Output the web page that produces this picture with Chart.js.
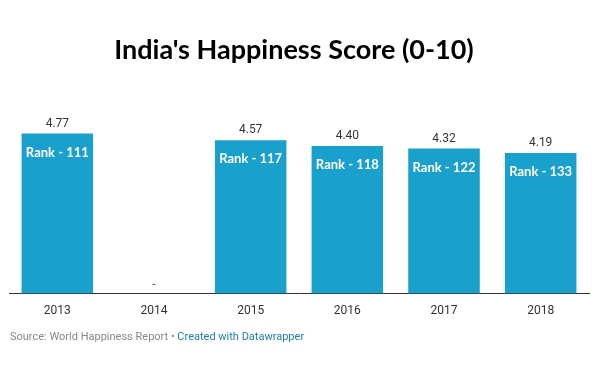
<!DOCTYPE html>
<html>
<head>
<meta charset="utf-8">
<script src="https://cdn.jsdelivr.net/npm/chart.js@4"></script>
<style>
  html, body { margin: 0; padding: 0; background: #fff; }
  #wrap { width: 600px; height: 365px; position: relative; }
</style>
</head>
<body>
<div id="wrap"><canvas id="Barchart" width="600" height="365"></canvas></div>
<script>
const years = ['2013', '2014', '2015', '2016', '2017', '2018'];
const scores = [4.77, null, 4.57, 4.40, 4.32, 4.19];
const ranks = ['Rank - 111', null, 'Rank - 117', 'Rank - 118', 'Rank - 122', 'Rank - 133'];

const titleText = "India's Happiness Score (0-10)";
const sourceText = 'Source: World Happiness Report • ';
const creditText = 'Created with Datawrapper';

// labels above and inside bars, title and footer
const labelPlugin = {
  id: 'labelPlugin',
  afterDatasetsDraw(chart) {
    const ctx = chart.ctx;
    const meta = chart.getDatasetMeta(0);
    const yScale = chart.scales.y;
    ctx.save();
    ctx.textAlign = 'center';
    meta.data.forEach((bar, i) => {
      if (scores[i] == null) {
        ctx.fillStyle = '#555';
        ctx.font = '12px Roboto';
        ctx.textBaseline = 'middle';
        ctx.fillText('-', bar.x, yScale.getPixelForValue(0) - 9);
        return;
      }
      ctx.fillStyle = '#333';
      ctx.font = '12px Roboto';
      ctx.textBaseline = 'middle';
      ctx.fillText(scores[i].toFixed(2), bar.x, bar.y - 10);
      ctx.fillStyle = '#fff';
      ctx.font = 'bold 13px Lato';
      ctx.fillText(ranks[i], bar.x, bar.y + 19);
    });

    ctx.fillStyle = '#000';
    ctx.font = 'bold 27px Lato';
    ctx.textBaseline = 'middle';
    ctx.fillText(titleText, 294, 50);

    ctx.textAlign = 'left';
    ctx.font = '11px Roboto';
    ctx.fillStyle = '#888';
    ctx.fillText(sourceText, 10, 337);
    const w = ctx.measureText(sourceText).width;
    ctx.fillStyle = '#1d7fb0';
    ctx.fillText(creditText, 10 + w, 337);
    ctx.restore();
  }
};

const Bardata = {
  labels: years,
  datasets: [{
    label: 'Score',
    data: scores,
    backgroundColor: '#1aa0cc',
    borderWidth: 0,
    barPercentage: 0.74,
    categoryPercentage: 1.0
  }]
};

var Barconfig = {
  type: 'bar',
  data: Bardata,
  options: {
    responsive: false,
    animation: false,
    layout: { padding: { left: 9, right: 11, top: 109, bottom: 37 } },
    plugins: {
      legend: { display: false },
      tooltip: { enabled: false }
    },
    scales: {
      x: {
        grid: { display: false, drawTicks: false },
        border: { display: true, color: '#333', width: 1 },
        ticks: { color: '#333', font: { family: 'Roboto', size: 12 }, padding: 10 }
      },
      y: {
        display: false,
        min: 0,
        max: 5.5
      }
    }
  },
  plugins: [labelPlugin]
};

var Barchart = new Chart(document.getElementById('Barchart'), Barconfig);
</script>
</body>
</html>
